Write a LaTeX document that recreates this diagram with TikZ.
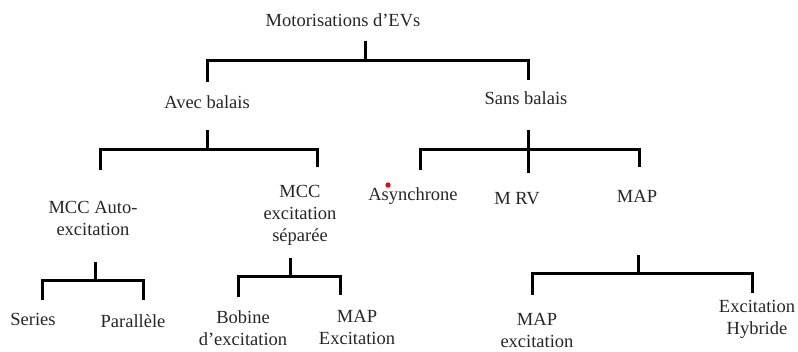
\documentclass[tikz,border=0pt]{standalone}
\usepackage{fontspec}
\setmainfont{Liberation Serif}
\usetikzlibrary{positioning}

\begin{document}
\begin{tikzpicture}[
  x=1pt, y=-1pt,
  lbl/.style={anchor=base, align=center, inner sep=0pt, text=black!85,
    font=\fontsize{18.5}{22}\selectfont},
  link/.style={line width=3pt, line join=miter},
]
  \useasboundingbox (0,0) rectangle (798,352);

  % labels
  \node[lbl] (root)  at (343,27)  {Motorisations d’EVs};
  \node[lbl] (avec)  at (207,109) {Avec balais};
  \node[lbl] (sans)  at (526,105) {Sans balais};
  \node[lbl] (auto)  at (93,236)  {MCC Auto-\\excitation};
  \node[lbl] (sep)   at (300,242) {MCC\\excitation\\séparée};
  \node[lbl] (async) at (413,201) {Asynchrone};
  \node[lbl] (mrv)   at (517,205) {M RV};
  \node[lbl] (map)   at (637,203) {MAP};
  \node[lbl] (series) at (33,326)  {Series};
  \node[lbl] (para)  at (133,328) {Parallèle};
  \node[lbl] (bob)   at (243,346) {Bobine\\d’excitation};
  \node[lbl] (mapex) at (357,345) {MAP\\Excitation};
  \node[lbl] (mapx)  at (537,348) {MAP\\excitation};
  \node[lbl] (hyb)   at (757,335) {Excitation\\Hybride};

  \fill[red] (388,185) circle (2.6pt);

  % junctions
  \coordinate (root-top) at (365,41);  \coordinate (root-bar) at (365,61);
  \coordinate (avec-top) at (207,130); \coordinate (avec-bar) at (207,150);
  \coordinate (sans-top) at (528,130); \coordinate (sans-bar) at (528,150);
  \coordinate (auto-top) at (95,262);  \coordinate (auto-bar) at (95,281);
  \coordinate (sep-top)  at (290,258); \coordinate (sep-bar)  at (290,277);
  \coordinate (map-top)  at (638,255); \coordinate (map-bar)  at (638,274);

  % drop ends
  \coordinate (avec-end) at (207,82);  \coordinate (sans-end) at (528,80);
  \coordinate (auto-end) at (100,170); \coordinate (sep-end)  at (317,167);
  \coordinate (async-end) at (420,170); \coordinate (mrv-end) at (528,173);
  \coordinate (map-end)  at (639,167);
  \coordinate (series-end) at (42,300); \coordinate (para-end) at (143,300);
  \coordinate (bob-end)  at (238,297); \coordinate (mapex-end) at (340,295);
  \coordinate (mapx-end) at (532,295); \coordinate (hyb-end) at (752,293);

  \draw[link] (root-top) -- (root-bar);
  \draw[link] (avec-end) |- (root-bar) -| (sans-end);
  \draw[link] (avec-top) -- (avec-bar);
  \draw[link] (auto-end) |- (avec-bar) -| (sep-end);
  \draw[link] (sans-top) -- (mrv-end);
  \draw[link] (async-end) |- (sans-bar) -| (map-end);
  \draw[link] (auto-top) -- (auto-bar);
  \draw[link] (series-end) |- (auto-bar) -| (para-end);
  \draw[link] (sep-top) -- (sep-bar);
  \draw[link] (bob-end) |- (sep-bar) -| (mapex-end);
  \draw[link] (map-top) -- (map-bar);
  \draw[link] (mapx-end) |- (map-bar) -| (hyb-end);
\end{tikzpicture}
\end{document}
